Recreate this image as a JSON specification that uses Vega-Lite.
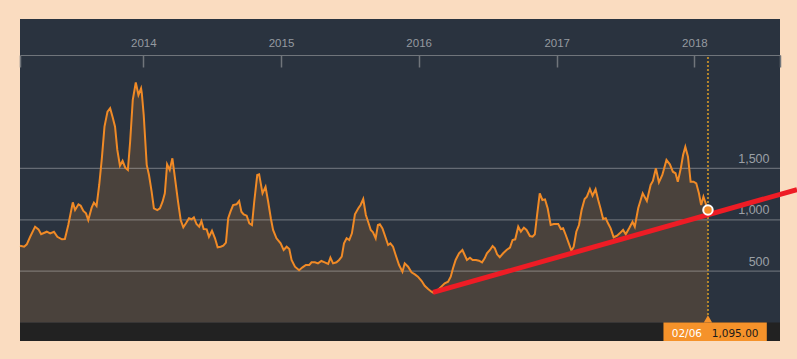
{
  "$schema": "https://vega.github.io/schema/vega-lite/v6.json",
  "width": 760,
  "height": 322,
  "autosize": {"type": "none"},
  "padding": {"left": 20, "top": 19, "right": 17, "bottom": 18},
  "background": "#fadcc0",
  "config": {
    "view": {"fill": "#2a333f", "stroke": null},
    "font": "Liberation Sans"
  },
  "datasets": {
    "bdi": [
      {"date": "2013-02-08", "bdi": 748}, {"date": "2013-02-19", "bdi": 738}, {"date": "2013-02-26", "bdi": 761},
      {"date": "2013-03-07", "bdi": 835}, {"date": "2013-03-20", "bdi": 933}, {"date": "2013-03-29", "bdi": 907},
      {"date": "2013-04-05", "bdi": 859}, {"date": "2013-04-20", "bdi": 884}, {"date": "2013-04-29", "bdi": 868},
      {"date": "2013-05-09", "bdi": 884}, {"date": "2013-05-18", "bdi": 835}, {"date": "2013-05-30", "bdi": 810},
      {"date": "2013-06-07", "bdi": 813}, {"date": "2013-06-16", "bdi": 949}, {"date": "2013-06-28", "bdi": 1170},
      {"date": "2013-07-04", "bdi": 1095}, {"date": "2013-07-13", "bdi": 1151}, {"date": "2013-07-19", "bdi": 1137},
      {"date": "2013-07-26", "bdi": 1086}, {"date": "2013-08-02", "bdi": 1063}, {"date": "2013-08-08", "bdi": 998},
      {"date": "2013-08-17", "bdi": 1118}, {"date": "2013-08-23", "bdi": 1167}, {"date": "2013-08-30", "bdi": 1134},
      {"date": "2013-09-06", "bdi": 1339}, {"date": "2013-09-13", "bdi": 1599}, {"date": "2013-09-20", "bdi": 1907},
      {"date": "2013-09-28", "bdi": 2053}, {"date": "2013-10-05", "bdi": 2086}, {"date": "2013-10-12", "bdi": 1994},
      {"date": "2013-10-18", "bdi": 1907}, {"date": "2013-10-24", "bdi": 1680}, {"date": "2013-10-31", "bdi": 1527},
      {"date": "2013-11-07", "bdi": 1573}, {"date": "2013-11-14", "bdi": 1507}, {"date": "2013-11-21", "bdi": 1485},
      {"date": "2013-11-27", "bdi": 1760}, {"date": "2013-12-04", "bdi": 2167}, {"date": "2013-12-12", "bdi": 2337},
      {"date": "2013-12-19", "bdi": 2215}, {"date": "2013-12-26", "bdi": 2280}, {"date": "2013-12-28", "bdi": 2232},
      {"date": "2014-01-02", "bdi": 2020}, {"date": "2014-01-10", "bdi": 1534}, {"date": "2014-01-16", "bdi": 1436},
      {"date": "2014-01-23", "bdi": 1274}, {"date": "2014-01-29", "bdi": 1112}, {"date": "2014-02-07", "bdi": 1095},
      {"date": "2014-02-14", "bdi": 1112}, {"date": "2014-02-21", "bdi": 1176}, {"date": "2014-02-27", "bdi": 1258},
      {"date": "2014-03-05", "bdi": 1540}, {"date": "2014-03-12", "bdi": 1485}, {"date": "2014-03-19", "bdi": 1599},
      {"date": "2014-03-26", "bdi": 1404}, {"date": "2014-04-03", "bdi": 1176}, {"date": "2014-04-10", "bdi": 998},
      {"date": "2014-04-17", "bdi": 927}, {"date": "2014-04-24", "bdi": 966}, {"date": "2014-05-02", "bdi": 1015},
      {"date": "2014-05-09", "bdi": 1005}, {"date": "2014-05-15", "bdi": 1024}, {"date": "2014-05-22", "bdi": 959},
      {"date": "2014-05-29", "bdi": 933}, {"date": "2014-06-04", "bdi": 988}, {"date": "2014-06-10", "bdi": 910},
      {"date": "2014-06-18", "bdi": 907}, {"date": "2014-06-24", "bdi": 835}, {"date": "2014-07-02", "bdi": 894},
      {"date": "2014-07-10", "bdi": 820}, {"date": "2014-07-17", "bdi": 732}, {"date": "2014-07-25", "bdi": 738},
      {"date": "2014-08-01", "bdi": 748}, {"date": "2014-08-08", "bdi": 777}, {"date": "2014-08-14", "bdi": 1015},
      {"date": "2014-08-20", "bdi": 1079}, {"date": "2014-08-27", "bdi": 1144}, {"date": "2014-09-05", "bdi": 1151},
      {"date": "2014-09-12", "bdi": 1183}, {"date": "2014-09-18", "bdi": 1079}, {"date": "2014-09-24", "bdi": 1053},
      {"date": "2014-10-02", "bdi": 1040}, {"date": "2014-10-09", "bdi": 966}, {"date": "2014-10-16", "bdi": 949},
      {"date": "2014-10-22", "bdi": 1176}, {"date": "2014-10-30", "bdi": 1436}, {"date": "2014-11-04", "bdi": 1443},
      {"date": "2014-11-13", "bdi": 1258}, {"date": "2014-11-21", "bdi": 1322}, {"date": "2014-11-28", "bdi": 1176},
      {"date": "2014-12-05", "bdi": 1015}, {"date": "2014-12-11", "bdi": 901}, {"date": "2014-12-20", "bdi": 820},
      {"date": "2014-12-31", "bdi": 771}, {"date": "2015-01-08", "bdi": 706}, {"date": "2015-01-16", "bdi": 738},
      {"date": "2015-01-23", "bdi": 716}, {"date": "2015-01-29", "bdi": 609}, {"date": "2015-02-07", "bdi": 543},
      {"date": "2015-02-18", "bdi": 509}, {"date": "2015-02-27", "bdi": 537}, {"date": "2015-03-08", "bdi": 560},
      {"date": "2015-03-17", "bdi": 560}, {"date": "2015-03-23", "bdi": 586}, {"date": "2015-04-01", "bdi": 586},
      {"date": "2015-04-09", "bdi": 576}, {"date": "2015-04-18", "bdi": 599}, {"date": "2015-04-27", "bdi": 586},
      {"date": "2015-05-06", "bdi": 570}, {"date": "2015-05-12", "bdi": 631}, {"date": "2015-05-19", "bdi": 576},
      {"date": "2015-05-28", "bdi": 586}, {"date": "2015-06-04", "bdi": 609}, {"date": "2015-06-11", "bdi": 641},
      {"date": "2015-06-17", "bdi": 771}, {"date": "2015-06-24", "bdi": 820}, {"date": "2015-07-01", "bdi": 803},
      {"date": "2015-07-08", "bdi": 868}, {"date": "2015-07-16", "bdi": 1053}, {"date": "2015-07-25", "bdi": 1112},
      {"date": "2015-07-31", "bdi": 1144}, {"date": "2015-08-07", "bdi": 1202}, {"date": "2015-08-14", "bdi": 1047},
      {"date": "2015-08-20", "bdi": 981}, {"date": "2015-08-27", "bdi": 901}, {"date": "2015-09-02", "bdi": 878},
      {"date": "2015-09-09", "bdi": 820}, {"date": "2015-09-15", "bdi": 949}, {"date": "2015-09-20", "bdi": 956},
      {"date": "2015-09-27", "bdi": 917}, {"date": "2015-10-03", "bdi": 852}, {"date": "2015-10-12", "bdi": 755},
      {"date": "2015-10-18", "bdi": 771}, {"date": "2015-10-25", "bdi": 738}, {"date": "2015-11-01", "bdi": 657},
      {"date": "2015-11-10", "bdi": 560}, {"date": "2015-11-19", "bdi": 495}, {"date": "2015-11-25", "bdi": 576},
      {"date": "2015-12-04", "bdi": 543}, {"date": "2015-12-13", "bdi": 489}, {"date": "2015-12-22", "bdi": 469},
      {"date": "2015-12-30", "bdi": 446}, {"date": "2016-01-09", "bdi": 404}, {"date": "2016-01-17", "bdi": 358},
      {"date": "2016-01-26", "bdi": 326}, {"date": "2016-02-04", "bdi": 300}, {"date": "2016-02-09", "bdi": 290},
      {"date": "2016-02-21", "bdi": 316}, {"date": "2016-03-01", "bdi": 349}, {"date": "2016-03-10", "bdi": 382},
      {"date": "2016-03-19", "bdi": 397}, {"date": "2016-03-26", "bdi": 446}, {"date": "2016-04-01", "bdi": 528},
      {"date": "2016-04-08", "bdi": 609}, {"date": "2016-04-17", "bdi": 674}, {"date": "2016-04-26", "bdi": 706},
      {"date": "2016-05-02", "bdi": 657}, {"date": "2016-05-08", "bdi": 609}, {"date": "2016-05-16", "bdi": 631},
      {"date": "2016-05-23", "bdi": 609}, {"date": "2016-06-01", "bdi": 609}, {"date": "2016-06-09", "bdi": 602},
      {"date": "2016-06-17", "bdi": 586}, {"date": "2016-06-24", "bdi": 625}, {"date": "2016-06-30", "bdi": 674},
      {"date": "2016-07-08", "bdi": 706}, {"date": "2016-07-15", "bdi": 745}, {"date": "2016-07-21", "bdi": 722},
      {"date": "2016-07-27", "bdi": 664}, {"date": "2016-08-03", "bdi": 636}, {"date": "2016-08-12", "bdi": 674},
      {"date": "2016-08-21", "bdi": 706}, {"date": "2016-08-30", "bdi": 729}, {"date": "2016-09-06", "bdi": 803},
      {"date": "2016-09-13", "bdi": 810}, {"date": "2016-09-21", "bdi": 933}, {"date": "2016-09-28", "bdi": 884},
      {"date": "2016-10-06", "bdi": 923}, {"date": "2016-10-13", "bdi": 901}, {"date": "2016-10-22", "bdi": 842},
      {"date": "2016-10-29", "bdi": 835}, {"date": "2016-11-04", "bdi": 859}, {"date": "2016-11-10", "bdi": 1047},
      {"date": "2016-11-17", "bdi": 1258}, {"date": "2016-11-24", "bdi": 1193}, {"date": "2016-12-01", "bdi": 1199},
      {"date": "2016-12-08", "bdi": 1112}, {"date": "2016-12-16", "bdi": 949}, {"date": "2016-12-24", "bdi": 959},
      {"date": "2017-01-05", "bdi": 959}, {"date": "2017-01-12", "bdi": 910}, {"date": "2017-01-18", "bdi": 917},
      {"date": "2017-01-25", "bdi": 852}, {"date": "2017-02-02", "bdi": 771}, {"date": "2017-02-09", "bdi": 699},
      {"date": "2017-02-15", "bdi": 738}, {"date": "2017-02-22", "bdi": 884}, {"date": "2017-03-01", "bdi": 949},
      {"date": "2017-03-08", "bdi": 1095}, {"date": "2017-03-16", "bdi": 1202}, {"date": "2017-03-22", "bdi": 1225},
      {"date": "2017-03-30", "bdi": 1300}, {"date": "2017-04-06", "bdi": 1235}, {"date": "2017-04-14", "bdi": 1297},
      {"date": "2017-04-21", "bdi": 1193}, {"date": "2017-04-27", "bdi": 1112}, {"date": "2017-05-04", "bdi": 1008},
      {"date": "2017-05-11", "bdi": 1015}, {"date": "2017-05-17", "bdi": 966}, {"date": "2017-05-24", "bdi": 917},
      {"date": "2017-06-01", "bdi": 830}, {"date": "2017-06-10", "bdi": 845}, {"date": "2017-06-17", "bdi": 868},
      {"date": "2017-06-26", "bdi": 901}, {"date": "2017-07-03", "bdi": 859}, {"date": "2017-07-12", "bdi": 917},
      {"date": "2017-07-21", "bdi": 981}, {"date": "2017-07-27", "bdi": 933}, {"date": "2017-08-05", "bdi": 1112},
      {"date": "2017-08-17", "bdi": 1258}, {"date": "2017-08-28", "bdi": 1183}, {"date": "2017-09-07", "bdi": 1339},
      {"date": "2017-09-13", "bdi": 1378}, {"date": "2017-09-21", "bdi": 1501}, {"date": "2017-09-29", "bdi": 1365},
      {"date": "2017-10-08", "bdi": 1436}, {"date": "2017-10-19", "bdi": 1582}, {"date": "2017-10-28", "bdi": 1540},
      {"date": "2017-11-05", "bdi": 1468}, {"date": "2017-11-12", "bdi": 1453}, {"date": "2017-11-18", "bdi": 1371},
      {"date": "2017-11-26", "bdi": 1501}, {"date": "2017-12-02", "bdi": 1631}, {"date": "2017-12-08", "bdi": 1710},
      {"date": "2017-12-15", "bdi": 1614}, {"date": "2017-12-22", "bdi": 1371}, {"date": "2017-12-30", "bdi": 1371},
      {"date": "2018-01-06", "bdi": 1355}, {"date": "2018-01-13", "bdi": 1258}, {"date": "2018-01-19", "bdi": 1144},
      {"date": "2018-01-25", "bdi": 1225}, {"date": "2018-02-06", "bdi": 1095}
    ],
    "latest": [{"date": "2018-02-06", "bdi": 1095, "day": "02/06"}],
    "trend": [{"date": "2016-02-08", "level": 293}, {"date": "2018-09-30", "level": 1294}],
    "levels": [{"level": 500}, {"level": 1000}, {"level": 1500}],
    "strip": [{"lo": -180, "hi": 0}]
  },
  "layer": [
    {
      "data": {"name": "strip"},
      "mark": {"type": "rect", "color": "#222222"},
      "encoding": {
        "y": {"field": "lo", "type": "quantitative", "scale": {"domain": [-180, 2955], "nice": false, "zero": false},
          "axis": {
            "orient": "right", "values": [500, 1000, 1500], "format": ",.0f", "ticks": false, "domain": false, "grid": false,
            "title": null, "labelAlign": "right", "labelPadding": -11, "labelBaseline": "alphabetic", "labelOffset": -6,
            "labelColor": "#9ba0a6", "labelFontSize": 12.5, "labelFont": "Liberation Sans"
          }
        },
        "y2": {"field": "hi"}
      }
    },
    {
      "data": {"name": "bdi"},
      "mark": {"type": "area", "color": "#4a423c", "interpolate": "linear"},
      "encoding": {
        "x": {"field": "date", "type": "temporal",
          "scale": {"type": "utc", "nice": false,
            "domain": [{"year": 2013, "month": 2, "date": 8, "utc": true}, {"year": 2018, "month": 8, "date": 16, "utc": true}]},
          "axis": {
            "orient": "top", "offset": -36, "title": null, "grid": false,
            "values": [
              {"year": 2013, "month": 2, "date": 8, "utc": true},
              {"year": 2014, "month": 1, "date": 1, "utc": true},
              {"year": 2015, "month": 1, "date": 1, "utc": true},
              {"year": 2016, "month": 1, "date": 1, "utc": true},
              {"year": 2017, "month": 1, "date": 1, "utc": true},
              {"year": 2018, "month": 1, "date": 1, "utc": true},
              {"year": 2018, "month": 8, "date": 16, "utc": true}
            ],
            "labelExpr": "utcmonth(datum.value) == 0 && utcdate(datum.value) == 1 ? utcFormat(datum.value, '%Y') : ''",
            "labelOverlap": false, "labelFlush": false, "labelBound": false,
            "domainColor": "#70757b", "domainWidth": 1.2, "tickColor": "#70757b", "tickWidth": 1.5, "tickSize": -12,
            "labelPadding": 21, "labelBaseline": "alphabetic", "labelColor": "#959aa0", "labelFontSize": 11.5,
            "labelFont": "Liberation Sans"
          }
        },
        "y": {"field": "bdi", "type": "quantitative"},
        "y2": {"datum": 0}
      }
    },
    {
      "data": {"name": "levels"},
      "mark": {"type": "rule", "color": "#ffffff", "opacity": 0.28, "strokeWidth": 1.2},
      "encoding": {"y": {"field": "level", "type": "quantitative"}}
    },
    {
      "data": {"name": "bdi"},
      "mark": {"type": "line", "color": "#f08a26", "strokeWidth": 2, "interpolate": "linear"},
      "encoding": {
        "x": {"field": "date", "type": "temporal"},
        "y": {"field": "bdi", "type": "quantitative"}
      }
    },
    {
      "data": {"name": "latest"},
      "mark": {"type": "rule", "color": "#b5862c", "strokeWidth": 2, "strokeDash": [2, 2]},
      "encoding": {
        "x": {"field": "date", "type": "temporal"},
        "y": {"datum": 2585},
        "y2": {"datum": 60}
      }
    },
    {
      "data": {"name": "latest"},
      "mark": {"type": "rect", "color": "#f5922a"},
      "encoding": {
        "x": {"datum": {"year": 2017, "month": 10, "date": 11, "utc": true}, "type": "temporal"},
        "x2": {"datum": {"year": 2018, "month": 7, "date": 12, "utc": true}},
        "y": {"datum": -180},
        "y2": {"datum": 0}
      }
    },
    {
      "data": {"name": "latest"},
      "mark": {"type": "point", "shape": "triangle-up", "filled": true, "color": "#f5922a", "opacity": 1, "size": 70},
      "encoding": {
        "x": {"field": "date", "type": "temporal"},
        "y": {"datum": 36}
      }
    },
    {
      "data": {"name": "latest"},
      "mark": {"type": "text", "color": "#ffffff", "align": "left", "baseline": "alphabetic", "font": "DejaVu Sans", "fontSize": 10.5},
      "encoding": {
        "x": {"datum": {"year": 2017, "month": 11, "date": 2, "utc": true}, "type": "temporal"},
        "y": {"datum": -144},
        "text": {"field": "day", "type": "nominal"}
      }
    },
    {
      "data": {"name": "latest"},
      "mark": {"type": "text", "color": "#1a1a1a", "align": "left", "baseline": "alphabetic", "font": "DejaVu Sans", "fontSize": 10.5},
      "encoding": {
        "x": {"datum": {"year": 2018, "month": 2, "date": 16, "utc": true}, "type": "temporal"},
        "y": {"datum": -144},
        "text": {"field": "bdi", "type": "quantitative", "format": ",.2f"}
      }
    },
    {
      "data": {"name": "trend"},
      "mark": {"type": "line", "color": "#ee1c25", "strokeWidth": 5, "strokeCap": "butt"},
      "encoding": {
        "x": {"field": "date", "type": "temporal"},
        "y": {"field": "level", "type": "quantitative"}
      }
    },
    {
      "data": {"name": "latest"},
      "mark": {"type": "point", "filled": true, "color": "#f08a26", "opacity": 1, "stroke": "#ffffff", "strokeWidth": 2, "size": 90},
      "encoding": {
        "x": {"field": "date", "type": "temporal"},
        "y": {"field": "bdi", "type": "quantitative"}
      }
    }
  ]
}
